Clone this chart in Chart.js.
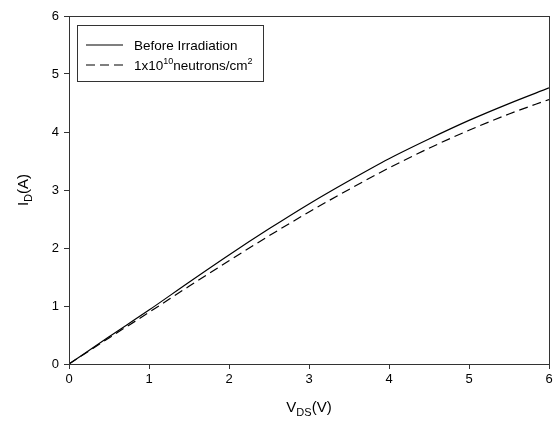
<!DOCTYPE html>
<html>
<head>
<meta charset="utf-8">
<script src="https://cdn.jsdelivr.net/npm/chart.js@4"></script>
<style>
  html, body { margin: 0; padding: 0; background: #fff; }
  #wrap { width: 557px; height: 421px; }
</style>
</head>
<body>
<div id="wrap"><canvas id="chartCanvas" width="557" height="421"></canvas></div>
<script>
// V_DS values (V)
const vds = [0, 0.5, 1, 1.5, 2, 2.5, 3, 3.5, 4, 4.5, 5, 5.5, 6];
// I_D before irradiation (A)
const idBefore = [0, 0.47, 0.93, 1.41, 1.88, 2.33, 2.76, 3.16, 3.54, 3.88, 4.2, 4.49, 4.76];
// I_D after 1x10^10 neutrons/cm^2 (A)
const idAfter = [0, 0.45, 0.89, 1.34, 1.78, 2.21, 2.62, 3.01, 3.38, 3.72, 4.03, 4.31, 4.56];
const ticks = [0, 1, 2, 3, 4, 5, 6];

const FONT = "'Liberation Sans', Arial, sans-serif";

const toXY = (ys) => vds.map((v, i) => ({ x: v, y: ys[i] }));

// draws the frame, axis titles and the legend box
const decor = {
  id: "decor",
  afterDraw(chart) {
    const { ctx, chartArea: a } = chart;
    ctx.save();
    ctx.strokeStyle = "#333";
    ctx.lineWidth = 1;
    ctx.strokeRect(a.left + 0.5, a.top + 0.5, a.right - a.left, a.bottom - a.top);

    ctx.fillStyle = "#000";
    // x title V_DS(V)
    const cx = (a.left + a.right) / 2;
    ctx.textBaseline = "alphabetic";
    ctx.font = "15px " + FONT;
    const wV = ctx.measureText("V").width;
    ctx.font = "11px " + FONT;
    const wDS = ctx.measureText("DS").width;
    ctx.font = "15px " + FONT;
    const wU = ctx.measureText("(V)").width;
    let x0 = cx - (wV + wDS + wU) / 2;
    const by = 412;
    ctx.textAlign = "left";
    ctx.fillText("V", x0, by);
    ctx.font = "11px " + FONT;
    ctx.fillText("DS", x0 + wV, by + 4);
    ctx.font = "15px " + FONT;
    ctx.fillText("(V)", x0 + wV + wDS, by);

    // y title I_D(A)
    ctx.save();
    ctx.translate(28, (a.top + a.bottom) / 2);
    ctx.rotate(-Math.PI / 2);
    const wI = ctx.measureText("I").width;
    ctx.font = "11px " + FONT;
    const wD = ctx.measureText("D").width;
    ctx.font = "15px " + FONT;
    const wA = ctx.measureText("(A)").width;
    x0 = -(wI + wD + wA) / 2;
    ctx.fillText("I", x0, 0);
    ctx.font = "11px " + FONT;
    ctx.fillText("D", x0 + wI, 4);
    ctx.font = "15px " + FONT;
    ctx.fillText("(A)", x0 + wI + wD, 0);
    ctx.restore();

    // legend
    const lx = 77.5, ly = 25.5, lw = 186, lh = 56;
    ctx.strokeStyle = "#333";
    ctx.strokeRect(lx, ly, lw, lh);
    ctx.strokeStyle = "#000";
    ctx.lineWidth = 1.1;
    ctx.beginPath();
    ctx.moveTo(86, 45); ctx.lineTo(123, 45);
    ctx.stroke();
    ctx.setLineDash([9, 5]);
    ctx.beginPath();
    ctx.moveTo(86, 65); ctx.lineTo(123, 65);
    ctx.stroke();
    ctx.setLineDash([]);
    ctx.font = "13.5px " + FONT;
    ctx.fillText("Before Irradiation", 134, 50);
    let tx = 134;
    ctx.fillText("1x10", tx, 70);
    tx += ctx.measureText("1x10").width;
    ctx.font = "9px " + FONT;
    ctx.fillText("10", tx, 64);
    tx += ctx.measureText("10").width;
    ctx.font = "13.5px " + FONT;
    ctx.fillText("neutrons/cm", tx, 70);
    tx += ctx.measureText("neutrons/cm").width;
    ctx.font = "9px " + FONT;
    ctx.fillText("2", tx, 64);
    ctx.restore();
  }
};

new Chart(document.getElementById("chartCanvas").getContext("2d"), {
  type: "line",
  data: {
    datasets: [
      {
        label: "Before Irradiation",
        data: toXY(idBefore),
        borderColor: "#000",
        borderWidth: 1.2,
        pointRadius: 0,
        cubicInterpolationMode: "monotone",
        fill: false
      },
      {
        label: "1x10^10neutrons/cm^2",
        data: toXY(idAfter),
        borderColor: "#000",
        borderWidth: 1.2,
        borderDash: [9, 5],
        pointRadius: 0,
        cubicInterpolationMode: "monotone",
        fill: false
      }
    ]
  },
  options: {
    responsive: false,
    animation: false,
    layout: { padding: { top: 16, right: 8, left: 0, bottom: 0 } },
    scales: {
      x: {
        type: "linear",
        min: 0,
        max: 6,
        afterBuildTicks: (s) => { s.ticks = ticks.map((v) => ({ value: v })); },
        afterFit: (s) => { s.height = 57; },
        ticks: { color: "#000", font: { family: FONT, size: 13 }, padding: 3, maxRotation: 0 },
        grid: { drawOnChartArea: false, drawTicks: true, tickLength: 5, color: "#333" },
        border: { display: false }
      },
      y: {
        min: 0,
        max: 6,
        afterBuildTicks: (s) => { s.ticks = ticks.map((v) => ({ value: v })); },
        afterFit: (s) => { s.width = 69; },
        ticks: { color: "#000", font: { family: FONT, size: 13 }, padding: 5 },
        grid: { drawOnChartArea: false, drawTicks: true, tickLength: 5, color: "#333" },
        border: { display: false }
      }
    },
    plugins: {
      legend: { display: false },
      tooltip: { enabled: false }
    }
  },
  plugins: [decor]
});
</script>
</body>
</html>
